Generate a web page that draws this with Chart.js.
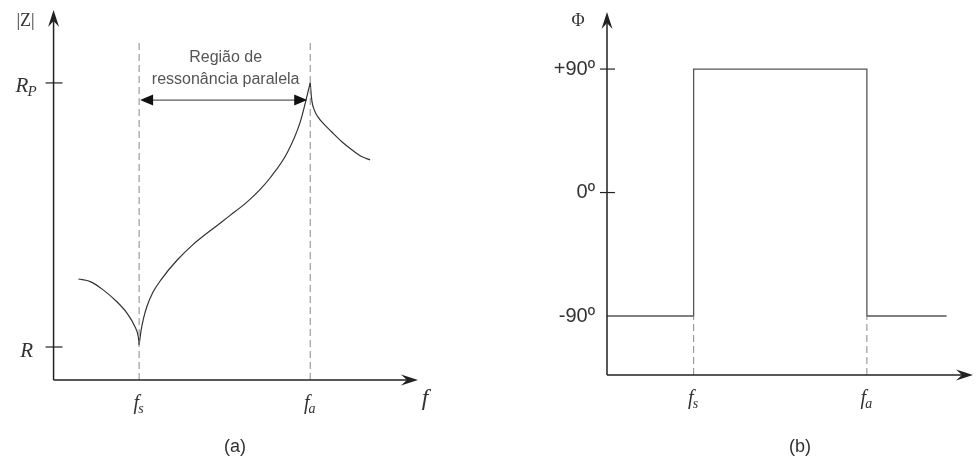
<!DOCTYPE html>
<html>
<head>
<meta charset="utf-8">
<title>Impedância e fase do cristal</title>
<script src="https://cdn.jsdelivr.net/npm/chart.js@4.4.1/dist/chart.umd.min.js"></script>
<style>
  html, body { margin: 0; padding: 0; background: #fff; }
  #wrap { position: relative; width: 976px; height: 463px; }
  canvas { position: absolute; top: 0; }
  #zChart { left: 0; }
  #phiChart { left: 488px; }
</style>
</head>
<body>
<div id="wrap">
  <canvas id="zChart" width="488" height="463"></canvas>
  <canvas id="phiChart" width="488" height="463"></canvas>
</div>
<script>
// resonance frequencies (arbitrary units)
const fs = 1;
const fa = 3;

// |Z| curve: series resonance minimum at fs, parallel peak at fa
const zFreq = [0.29, 0.43, 0.58, 0.74, 0.86, 0.95, 0.99, 1.0,
  1.02, 1.05, 1.09, 1.16, 1.26, 1.44, 1.62, 1.87, 2.06, 2.26, 2.41, 2.53, 2.73, 2.88, 2.98, 3.0,
  3.02, 3.05, 3.09, 3.15, 3.25, 3.37, 3.49, 3.60, 3.70];
const zValue = [3.06, 2.98, 2.73, 2.37, 2.02, 1.62, 1.31, 1.06,
  1.45, 1.85, 2.22, 2.65, 3.05, 3.62, 4.08, 4.6, 4.98, 5.39, 5.76, 6.12, 6.88, 7.79, 8.79, 9.0,
  8.45, 8.17, 7.97, 7.78, 7.52, 7.22, 6.97, 6.77, 6.67];
// indices of the two cusps (minimum at fs, peak at fa)
const zCusps = [7, 23];
const zTicks = [1, 9];
const zTickLabels = [['R', ''], ['R', 'P']];

// phase step
const phiFreq = [0, 1, 1, 3, 3, 3.92];
const phiValue = [-90, -90, 90, 90, -90, -90];
const phiTicks = [90, 0, -90];
const phiTickLabels = ['+90º', '0º', '-90º'];

const freqLabels = [['f', 's'], ['f', 'a']];

const toPoints = (xs, ys) => xs.map((x, i) => ({ x: x, y: ys[i] }));

function arrowHead(ctx, x, y, dir, len, half) {
  // notched arrow pointing in dir ('up' or 'right')
  ctx.beginPath();
  if (dir === 'up') {
    ctx.moveTo(x, y);
    ctx.lineTo(x - half, y + len);
    ctx.lineTo(x, y + len * 0.65);
    ctx.lineTo(x + half, y + len);
  } else {
    ctx.moveTo(x, y);
    ctx.lineTo(x - len, y - half);
    ctx.lineTo(x - len * 0.65, y);
    ctx.lineTo(x - len, y + half);
  }
  ctx.closePath();
  ctx.fill();
}

function subLabel(ctx, main, sub, cx, cy, size) {
  ctx.save();
  ctx.fillStyle = '#333';
  ctx.textBaseline = 'middle';
  ctx.font = 'italic ' + size + 'px "Liberation Serif", serif';
  const w1 = ctx.measureText(main).width;
  ctx.font = 'italic ' + Math.round(size * 0.7) + 'px "Liberation Serif", serif';
  const w2 = sub ? ctx.measureText(sub).width : 0;
  const x0 = cx - (w1 + w2) / 2;
  ctx.font = 'italic ' + size + 'px "Liberation Serif", serif';
  ctx.textAlign = 'left';
  ctx.fillText(main, x0, cy);
  if (sub) {
    ctx.font = 'italic ' + Math.round(size * 0.7) + 'px "Liberation Serif", serif';
    ctx.fillText(sub, x0 + w1 - 1, cy + size * 0.25);
  }
  ctx.restore();
}

// axes with arrows, ticks and the text around each plot
const axesPlugin = {
  id: 'axesPlugin',
  afterDatasetsDraw(chart, args, opts) {
    const ctx = chart.ctx;
    const area = chart.chartArea;
    const x = chart.scales.x;
    const y = chart.scales.y;
    const ox = x.getPixelForValue(0);
    const oy = y.getPixelForValue(y.min);

    ctx.save();
    ctx.strokeStyle = '#222';
    ctx.fillStyle = '#222';
    ctx.lineWidth = 1.5;
    ctx.beginPath();
    ctx.moveTo(ox, oy);
    ctx.lineTo(ox, area.top + 8);
    ctx.moveTo(ox, oy);
    ctx.lineTo(area.right - 8, oy);
    ctx.stroke();
    arrowHead(ctx, ox, area.top, 'up', 17, 5.5);
    arrowHead(ctx, area.right, oy, 'right', 17, 5.5);

    // y ticks
    ctx.lineWidth = 1.2;
    opts.ticks.forEach((v, i) => {
      const py = y.getPixelForValue(v);
      if (opts.tickMarks[i]) {
        ctx.beginPath();
        ctx.moveTo(ox - opts.tickLeft, py);
        ctx.lineTo(ox + opts.tickRight, py);
        ctx.stroke();
      }
      const lab = opts.tickLabels[i];
      if (Array.isArray(lab)) {
        subLabel(ctx, lab[0], lab[1], ox - 27, py + 4, 21);
      } else {
        ctx.save();
        ctx.fillStyle = '#333';
        ctx.font = '20px "Liberation Sans", Arial, sans-serif';
        ctx.textAlign = 'right';
        ctx.textBaseline = 'middle';
        ctx.fillText(lab, ox - 12, py);
        ctx.restore();
      }
    });

    // frequency labels
    [fs, fa].forEach((f, i) => {
      subLabel(ctx, freqLabels[i][0], freqLabels[i][1], x.getPixelForValue(f), oy + 24, 20);
    });
    subLabel(ctx, 'f', '', area.right + 7, oy + 19, 24);

    // y axis name
    ctx.fillStyle = '#333';
    ctx.font = '18px "Liberation Serif", serif';
    ctx.textAlign = 'center';
    ctx.textBaseline = 'middle';
    ctx.fillText(opts.yName, ox - opts.yNameDx, 21);

    // panel caption
    ctx.font = '18px "Liberation Sans", Arial, sans-serif';
    ctx.fillText(opts.caption, opts.captionX, 447);
    ctx.restore();
  }
};

// double arrow marking the parallel resonance region
const regionPlugin = {
  id: 'regionPlugin',
  afterDatasetsDraw(chart) {
    const ctx = chart.ctx;
    const x = chart.scales.x;
    const y = chart.scales.y;
    const x1 = x.getPixelForValue(fs) + 1;
    const x2 = x.getPixelForValue(fa) - 3;
    const py = y.getPixelForValue(8.48);
    ctx.save();
    ctx.strokeStyle = '#333';
    ctx.fillStyle = '#111';
    ctx.lineWidth = 1;
    ctx.beginPath();
    ctx.moveTo(x1 + 10, py);
    ctx.lineTo(x2 - 10, py);
    ctx.stroke();
    ctx.beginPath();
    ctx.moveTo(x1, py);
    ctx.lineTo(x1 + 13, py - 5.5);
    ctx.lineTo(x1 + 13, py + 5.5);
    ctx.closePath();
    ctx.fill();
    ctx.beginPath();
    ctx.moveTo(x2, py);
    ctx.lineTo(x2 - 13, py - 5.5);
    ctx.lineTo(x2 - 13, py + 5.5);
    ctx.closePath();
    ctx.fill();

    const cx = (x1 + x2) / 2 + 2;
    ctx.fillStyle = '#555';
    ctx.font = '16px "Liberation Sans", Arial, sans-serif';
    ctx.textAlign = 'center';
    ctx.textBaseline = 'middle';
    ctx.fillText('Região de', cx, 58);
    ctx.fillText('ressonância paralela', cx, 80);
    ctx.restore();
  }
};

function dashed(f, y0, y1) {
  return {
    data: [{ x: f, y: y0 }, { x: f, y: y1 }],
    borderColor: '#888',
    borderWidth: 1,
    borderDash: [7, 4],
    pointRadius: 0,
    tension: 0
  };
}

// one smooth branch of the |Z| curve, between two cusp indices
function zBranch(from, to) {
  return {
    data: toPoints(zFreq.slice(from, to + 1), zValue.slice(from, to + 1)),
    borderColor: '#333',
    borderWidth: 1.2,
    pointRadius: 0,
    cubicInterpolationMode: 'monotone'
  };
}

const baseOptions = (pad, xr, yr, axesOpts) => ({
  responsive: false,
  animation: false,
  events: [],
  layout: { padding: pad },
  plugins: {
    legend: { display: false },
    tooltip: { enabled: false },
    axesPlugin: axesOpts
  },
  scales: {
    x: { type: 'linear', display: false, min: xr[0], max: xr[1] },
    y: { type: 'linear', display: false, min: yr[0], max: yr[1] }
  }
});

new Chart(document.getElementById('zChart'), {
  type: 'line',
  data: {
    datasets: [
      dashed(fs, 0, 10.3),
      dashed(fa, 0, 10.3),
      zBranch(0, zCusps[0]),
      zBranch(zCusps[0], zCusps[1]),
      zBranch(zCusps[1], zFreq.length - 1)
    ]
  },
  options: baseOptions(
    { left: 51, right: 70, top: 10, bottom: 83 },
    [-0.03, 4.26], [0, 11.21],
    {
      ticks: zTicks, tickLabels: zTickLabels, tickMarks: [true, true],
      tickLeft: 8, tickRight: 9,
      yName: '|Z|', yNameDx: 28, caption: '(a)', captionX: 235
    }
  ),
  plugins: [axesPlugin, regionPlugin]
});

new Chart(document.getElementById('phiChart'), {
  type: 'line',
  data: {
    datasets: [
      dashed(fs, -133, -90),
      dashed(fa, -133, -90),
      {
        data: toPoints(phiFreq, phiValue),
        borderColor: '#555',
        borderWidth: 1.3,
        pointRadius: 0,
        tension: 0
      }
    ]
  },
  options: baseOptions(
    { left: 119, right: 3, top: 12, bottom: 88 },
    [0, 4.225], [-133, 131.6],
    {
      ticks: phiTicks, tickLabels: phiTickLabels, tickMarks: [true, true, false],
      tickLeft: 7, tickRight: 8,
      yName: 'Φ', yNameDx: 29, caption: '(b)', captionX: 312
    }
  ),
  plugins: [axesPlugin]
});
</script>
</body>
</html>
